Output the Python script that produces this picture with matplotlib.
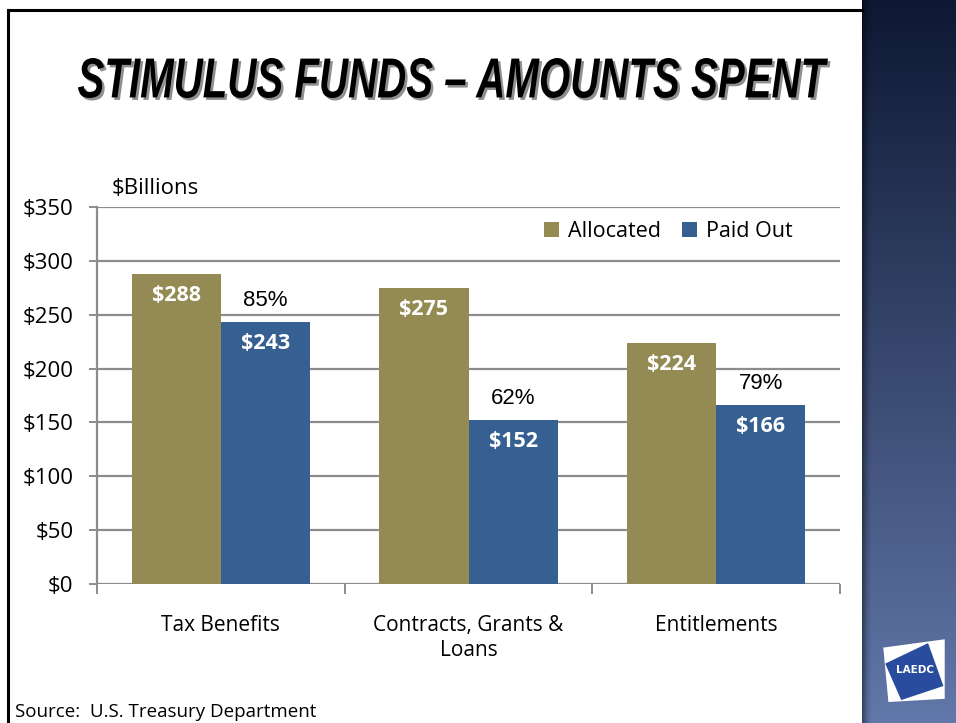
import numpy as np
import matplotlib.pyplot as plt
from matplotlib.patches import Polygon, PathPatch
from matplotlib.textpath import TextPath
from matplotlib.font_manager import FontProperties
from matplotlib.transforms import Affine2D, IdentityTransform

categories = ["Tax Benefits", "Contracts, Grants &\nLoans", "Entitlements"]
allocated = [288, 275, 224]
paid_out = [243, 152, 166]
pct_paid = ["85%", "62%", "79%"]
y_ticks = [0, 50, 100, 150, 200, 250, 300, 350]

olive = "#948A54"
blue = "#366092"
grid_grey = "#8c8c8c"
font = "Open Sans"

W, H = 956, 723
fig = plt.figure(figsize=(W / 100, H / 100), dpi=100)
fig.patch.set_facecolor("white")

# slide background panel on the right with a vertical gradient
bg = fig.add_axes([862 / W, 0, 94 / W, 1])
grad = np.linspace(0, 1, 256)[:, None]
top = np.array([0x0e, 0x18, 0x33]) / 255
bottom = np.array([0x62, 0x78, 0xaa]) / 255
img = top + (bottom - top) * grad[..., None]
img = np.repeat(img, 4, axis=1)
bg.imshow(img, aspect="auto", extent=[0, 1, 0, 1], origin="upper")
# soft shadow along the panel edge
shadow = np.zeros((1, 32, 4))
shadow[..., 3] = np.linspace(0.6, 0, 32) ** 1.5
bg.imshow(shadow, extent=[0, 0.1, 0, 1], aspect="auto")
bg.set_xlim(0, 1)
bg.set_ylim(0, 1)
bg.axis("off")

# LAEDC logo
logo = fig.add_axes([882 / W, 1 - 702 / H, 64 / W, 64 / H])
logo.set_xlim(0, 1)
logo.set_ylim(0, 1)
logo.axis("off")
logo.add_patch(Polygon([(0.02, 0.85), (0.98, 0.98), (0.98, 0.05), (0.1, 0.0)],
                       closed=True, facecolor="white", edgecolor="none"))
logo.add_patch(Polygon([(0.05, 0.6), (0.72, 0.92), (0.96, 0.25), (0.3, 0.03)],
                       closed=True, facecolor="#2a4c9e", edgecolor="none"))
logo.text(0.52, 0.5, "LAEDC", color="white", fontsize=7.5, fontweight="bold",
          ha="center", va="center", family="DejaVu Sans")

# slide frame lines
fig.add_artist(plt.Line2D([8 / W, 8 / W], [0, 1 - 10 / H], color="black", lw=2.2))
fig.add_artist(plt.Line2D([8 / W, 862 / W], [1 - 10 / H, 1 - 10 / H], color="black", lw=2.2))

# title, squeezed to a condensed look, with a grey drop shadow
title = "STIMULUS FUNDS \u2013 AMOUNTS SPENT"
tp = TextPath((0, 0), title, size=100,
              prop=FontProperties(family="Liberation Sans", weight="bold", style="italic"))
ext = tp.get_extents()
x0, x1, ytop, ybot = 78, 828, 58, 98
sx = (x1 - x0) / ext.width
sy = (ybot - ytop) / ext.height
for dx, dy, col in [(2.5, -2.5, "#8f8f8f"), (0, 0, "black")]:
    tr = (Affine2D().translate(-ext.x0, -ext.y0).scale(sx, sy)
          .translate(x0 + dx, H - ybot + dy))
    fig.add_artist(PathPatch(tr.transform_path(tp), facecolor=col, edgecolor="none",
                             transform=IdentityTransform()))

ax = fig.add_axes([97 / W, 1 - 584 / H, 743 / W, 377 / H])
x = np.arange(len(categories))
w = 0.36
b1 = ax.bar(x - w / 2, allocated, w, color=olive, label="Allocated", zorder=3)
b2 = ax.bar(x + w / 2, paid_out, w, color=blue, label="Paid Out", zorder=3)

for rect, v in zip(b1, allocated):
    ax.text(rect.get_x() + rect.get_width() / 2, v - 20, f"${v}", ha="center", va="center",
            color="white", fontsize=15.5, fontweight="bold", family=font, zorder=4)
for rect, v, p in zip(b2, paid_out, pct_paid):
    ax.text(rect.get_x() + rect.get_width() / 2, v - 20, f"${v}", ha="center", va="center",
            color="white", fontsize=15.5, fontweight="bold", family=font, zorder=4)
    ax.text(rect.get_x() + rect.get_width() / 2, v + 20, p, ha="center", va="center",
            color="black", fontsize=16, family="Liberation Sans", zorder=4)

ax.set_xlim(-0.5, len(categories) - 0.5)
ax.set_ylim(0, 350)
ax.set_yticks(y_ticks)
ax.set_yticklabels([f"${t}" for t in y_ticks], family=font, fontsize=16)
ax.yaxis.grid(True, color=grid_grey, lw=1.6, zorder=0)
ax.set_axisbelow(True)
for s in ["top", "right", "bottom"]:
    ax.spines[s].set_visible(False)
ax.spines["left"].set_color(grid_grey)
ax.spines["left"].set_linewidth(1.6)
ax.tick_params(axis="y", length=6, width=1.4, color=grid_grey, pad=11)

ax.set_xticks(x)
ax.set_xticklabels(categories, family=font, fontsize=15, linespacing=1.25)
ax.tick_params(axis="x", length=0, pad=22)
ax.set_xticks(np.arange(-0.5, len(categories), 1), minor=True)
ax.tick_params(axis="x", which="minor", length=7, width=1.4, color=grid_grey)

fig.text(112 / W, 1 - 188 / H, "$Billions", family=font, fontsize=16, ha="left", va="center")

ax.legend(loc="center left", bbox_to_anchor=(0.59, 0.935), ncol=2, frameon=False,
          prop={"family": font, "size": 15.5}, handlelength=0.7, handleheight=0.7,
          handletextpad=0.4, columnspacing=1.0, borderaxespad=0)

fig.text(15 / W, 1 - 712 / H, "Source:  U.S. Treasury Department", family=font,
         fontsize=13.5, ha="left", va="center")

fig.savefig("out.png", dpi=100)
